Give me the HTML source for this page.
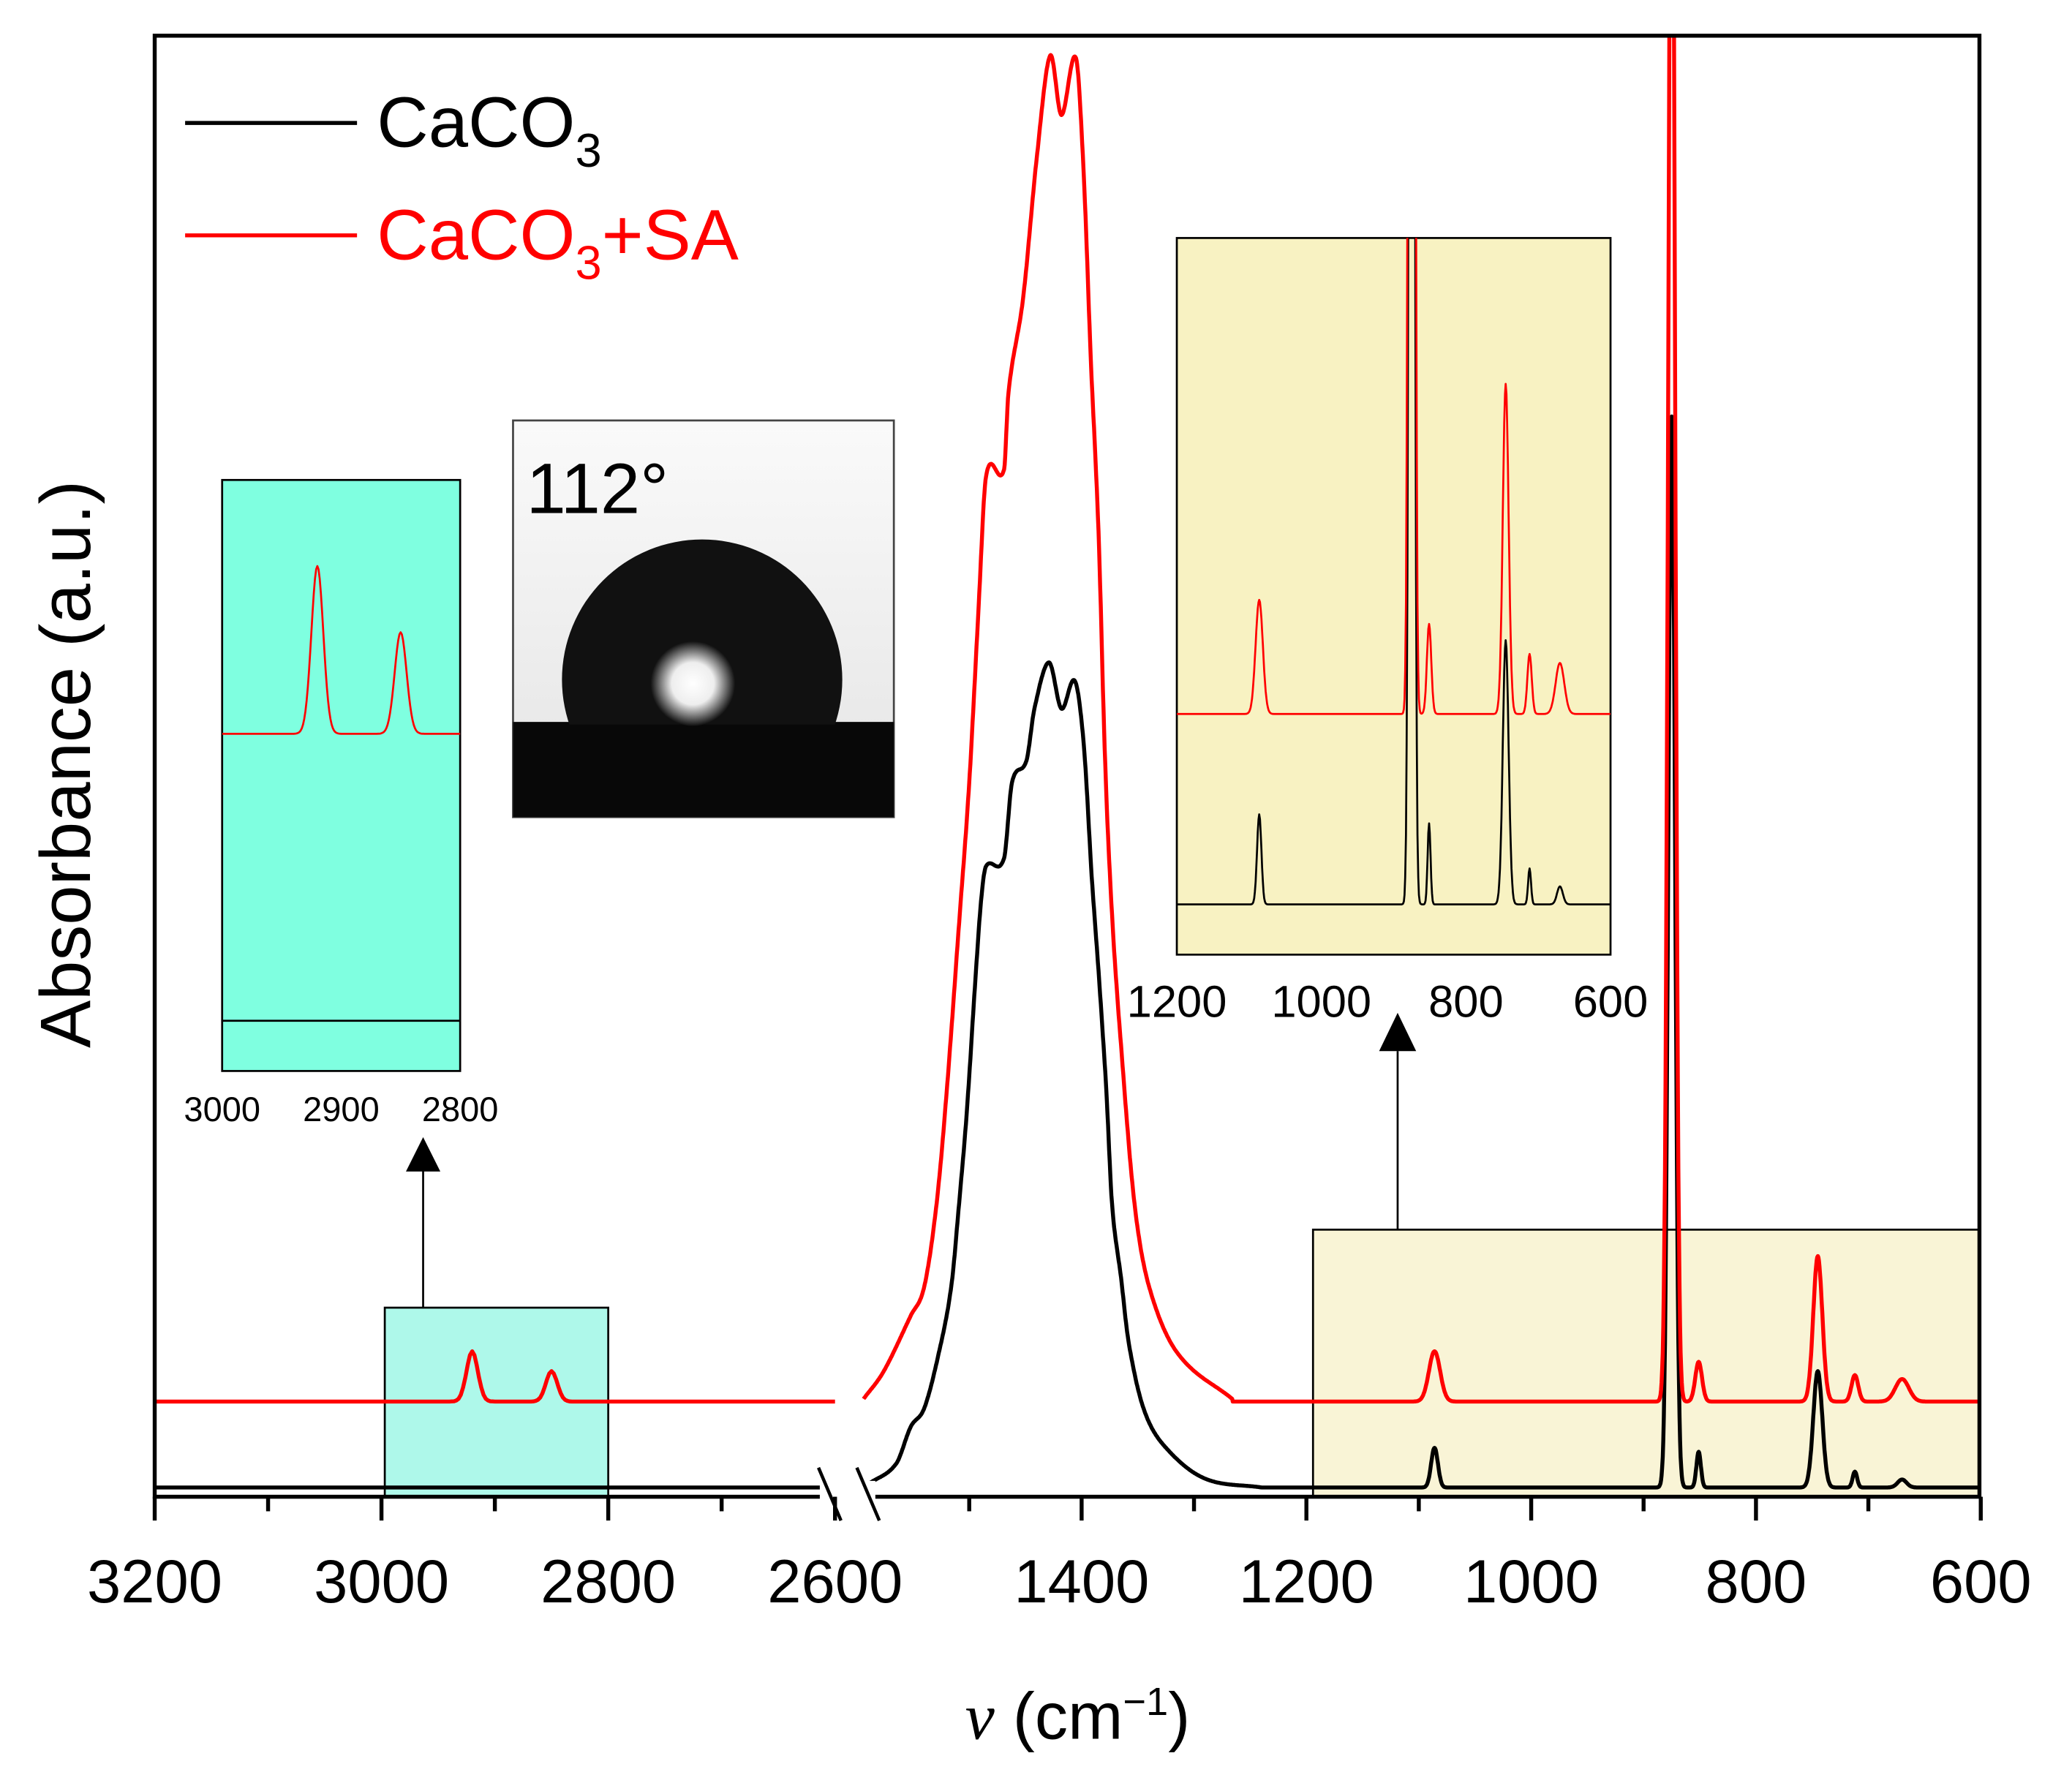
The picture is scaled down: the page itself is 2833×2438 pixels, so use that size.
<!DOCTYPE html>
<html><head><meta charset="utf-8"><style>
html,body{margin:0;padding:0;background:#fff}
svg{display:block}
text{font-family:"Liberation Sans",sans-serif}
</style></head><body>
<svg id="chart" width="2833" height="2438" viewBox="0 0 1567 1348.5" preserveAspectRatio="none" xmlns="http://www.w3.org/2000/svg">
<defs>
<clipPath id="plotClip"><rect x="117" y="27" width="1380" height="1105"/></clipPath>
<clipPath id="cyanClip"><rect x="168" y="363" width="180" height="447"/></clipPath>
<clipPath id="yelClip"><rect x="890" y="180" width="328" height="542"/></clipPath>
<clipPath id="dropClip"><rect x="388" y="318" width="288" height="230"/></clipPath>
<radialGradient id="glare"><stop offset="0" stop-color="#fff"/><stop offset="0.5" stop-color="#eee"/><stop offset="1" stop-color="#111"/></radialGradient>
<linearGradient id="bgGrad" x1="0" y1="0" x2="0" y2="1"><stop offset="0" stop-color="#fafafa"/><stop offset="1" stop-color="#e4e4e4"/></linearGradient>
</defs>
<rect x="291" y="989" width="169" height="143" fill="#aef8ea" stroke="#000" stroke-width="1.5"/>
<rect x="993" y="930" width="504" height="202" fill="#f9f4d6" stroke="#000" stroke-width="1.5"/>
<g id="mainSeries" clip-path="url(#plotClip)"></g>
<rect x="117" y="27" width="1380" height="1105" fill="none" stroke="#000" stroke-width="3"/>
<rect x="620" y="1120" width="42" height="30" fill="#fff"/>
<g id="breakMarks" stroke="#000" stroke-width="2.5">
<line x1="619" y1="1110" x2="636" y2="1150"/><line x1="648" y1="1110" x2="665" y2="1150"/>
</g>
<g id="xTicks"></g>
<text x="815" y="1315" font-size="50" text-anchor="middle"><tspan font-family="Liberation Serif" font-style="italic">ν</tspan> (cm<tspan dy="-18" font-size="30">−1</tspan><tspan dy="18">)</tspan></text>
<text transform="translate(68,578) rotate(-90)" font-size="54" text-anchor="middle">Absorbance (a.u.)</text>
<g>
<line x1="140" y1="93" x2="270" y2="93" stroke="#000" stroke-width="3"/>
<text x="285" y="111" font-size="54">CaCO<tspan dy="15" font-size="36">3</tspan></text>
<line x1="140" y1="178" x2="270" y2="178" stroke="#f00" stroke-width="3"/>
<text x="285" y="196" font-size="54" fill="#f00">CaCO<tspan dy="15" font-size="36">3</tspan><tspan dy="-15">+SA</tspan></text>
</g>
<g>
<rect x="168" y="363" width="180" height="447" fill="#7fffe0" stroke="#000" stroke-width="1.5"/>
<g id="cyanSeries" clip-path="url(#cyanClip)"></g>
<g id="cyanTicks"></g>
</g>
<g>
<rect x="890" y="180" width="328" height="542" fill="#f8f2c2" stroke="#000" stroke-width="1.5"/>
<g id="yelSeries" clip-path="url(#yelClip)"></g>
<g id="yelTicks"></g>
</g>
<g><line x1="320" y1="989" x2="320" y2="884" stroke="#000" stroke-width="1.5"/><polygon points="307,886 333,886 320,860" fill="#000"/></g>
<g><line x1="1057" y1="930" x2="1057" y2="795" stroke="#000" stroke-width="1.5"/><polygon points="1043,795 1071,795 1057,766" fill="#000"/></g>
<g>
<rect x="388" y="318" width="288" height="300" fill="url(#bgGrad)" stroke="#444" stroke-width="1.5"/>
<rect x="388" y="546" width="288" height="72" fill="#080808"/>
<g clip-path="url(#dropClip)"><circle cx="531" cy="514" r="106" fill="#111"/></g>
<circle cx="524" cy="517" r="32" fill="url(#glare)"/>
<text x="398" y="388" font-size="54">112°</text>
</g>
</svg>
<script>
// carbonate band: wavenumber and absorbance (a.u., px-scaled)
var redBandV = [1594,1576,1552,1540,1529,1520,1509,1500,1492,1485,1469,1465,1452,1440,1428,1418,1405,1398,1392,1385,1379,1373,1365,1353,1340,1315,1266];
var redBandA = [2,23,65,87,150,235,362,468,595,700,705,764,835,940,1018,973,1016,926,792,658,482,369,270,150,87,37,2];
var blackBandV = [1589,1565,1552,1540,1527,1516,1509,1502,1494,1489,1485,1469,1462,1449,1442,1429,1418,1406,1398,1391,1385,1378,1373,1365,1358,1345,1327,1291,1240];
var blackBandA = [3,18,46,60,102,152,215,286,391,448,470,476,533,550,589,624,589,610,561,462,391,300,215,159,109,60,32,7,0];
// narrow peaks: [wavenumber, height, width]
var blackPeaksRight = [[875,810,3],[745,88,4],[1086,30,3],[851,27,2],[712,12,2],[670,6,4]];
var redPeaksRight = [[875,1300,3],[745,110,4],[1086,38,5],[851,30,3],[712,20,3],[670,17,6]];
var redPeaksLeft = [[2920,38,5],[2850,23,5]];
var blackPeaksLeft = [];
var majorTicksLeft = [3200,3000,2800,2600];
var majorTicksRight = [1400,1200,1000,800,600];
var cyanTicks = [3000,2900,2800];
var yelTicks = [1200,1000,800,600];
var NS='http://www.w3.org/2000/svg';
function xL(v){return 117+(3200-v)*0.8575;}
function xR(v){return 818+(1400-v)*0.85;}
function xC(v){return 168+(3000-v)*0.9;}
function xY(v){return 890+(1200-v)*(328/600);}
function band(bv,ba,v){
  if(!bv||v>bv[0]||v<bv[bv.length-1])return 0;
  var n=bv.length;
  for(var i=0;i<n-1;i++){
    if(v<=bv[i]&&v>=bv[i+1]){
      var h=bv[i]-bv[i+1],t=(bv[i]-v)/h;
      var m0=(i>0)?(ba[i+1]-ba[i-1])/(bv[i-1]-bv[i+1])*h:(ba[i+1]-ba[i]);
      var m1=(i<n-2)?(ba[i+2]-ba[i])/(bv[i]-bv[i+2])*h:(ba[i+1]-ba[i]);
      var t2=t*t,t3=t2*t;
      return (2*t3-3*t2+1)*ba[i]+(t3-2*t2+t)*m0+(-2*t3+3*t2)*ba[i+1]+(t3-t2)*m1;
    }
  }
  return 0;
}
function sig(peaks,v,bv,ba){var s=band(bv,ba,v);peaks.forEach(function(p){var d=(v-p[0])/p[2];s+=p[1]*Math.exp(-0.5*d*d);});return s;}
function path(parent,peaks,bv,ba,v0,v1,step,xf,base,k,color,sw,name){
  var d='';for(var v=v0;v>=v1;v-=step){var x=xf(v),y=base-k*sig(peaks,v,bv,ba);d+=(d?'L':'M')+x.toFixed(1)+','+y.toFixed(1);}
  var p=document.createElementNS(NS,'path');p.setAttribute('d',d);p.setAttribute('fill','none');p.setAttribute('stroke',color);p.setAttribute('stroke-width',sw);p.setAttribute('stroke-linejoin','round');
  
  
  parent.appendChild(p);
}
var ms=document.getElementById('mainSeries');
path(ms,blackPeaksLeft,null,null,3200,2600,2,xL,1125,1,'#000',3,'caco3-line-left');
path(ms,blackPeaksRight,blackBandV,blackBandA,1589,600,0.5,xR,1125,1,'#000',3,'caco3-line-right');
path(ms,redPeaksLeft,null,null,3200,2600,2,xL,1060,1,'#f00',3,'caco3-sa-line-left');
path(ms,redPeaksRight,redBandV,redBandA,1594,600,0.5,xR,1060,1,'#f00',3,'caco3-sa-line-right');
var cs=document.getElementById('cyanSeries');
path(cs,blackPeaksLeft,null,null,3000,2800,1,xC,772,3.34,'#000',1.5,'inset-caco3-line');
path(cs,redPeaksLeft,null,null,3000,2800,1,xC,555,3.34,'#f00',1.5,'inset-caco3-sa-line');
var ys=document.getElementById('yelSeries');
path(ys,blackPeaksRight,null,null,1200,600,1,xY,684,2.27,'#000',1.5,'inset-caco3-line-fingerprint');
path(ys,redPeaksRight,null,null,1200,600,1,xY,540,2.27,'#f00',1.5,'inset-caco3-sa-line-fingerprint');
function line(g,x1,y1,x2,y2,w){var l=document.createElementNS(NS,'line');l.setAttribute('x1',x1);l.setAttribute('y1',y1);l.setAttribute('x2',x2);l.setAttribute('y2',y2);l.setAttribute('stroke','#000');l.setAttribute('stroke-width',w);g.appendChild(l);}
function label(g,x,y,s,fs,name){var t=document.createElementNS(NS,'text');t.setAttribute('x',x);t.setAttribute('y',y);t.setAttribute('font-size',fs);t.setAttribute('text-anchor','middle');t.textContent=s;
  
  
  g.appendChild(t);}
var xt=document.getElementById('xTicks');
majorTicksLeft.forEach(function(v){var x=xL(v);line(xt,x,1132,x,1150,3);label(xt,x,1212,String(v),46,'x-tick-label');});
for(var v=3100;v>2600;v-=200){line(xt,xL(v),1132,xL(v),1143,3);}
majorTicksRight.forEach(function(v){var x=xR(v);line(xt,x,1132,x,1150,3);label(xt,x,1212,String(v),46,'x-tick-label');});
for(var v=1500;v>600;v-=200){line(xt,xR(v),1132,xR(v),1143,3);}
var ct=document.getElementById('cyanTicks');
cyanTicks.forEach(function(v){label(ct,xC(v),848,String(v),26,'inset-tick-label');});
var yt=document.getElementById('yelTicks');
yelTicks.forEach(function(v){label(yt,xY(v),769,String(v),34,'inset-tick-label');});
</script>
</body></html>
